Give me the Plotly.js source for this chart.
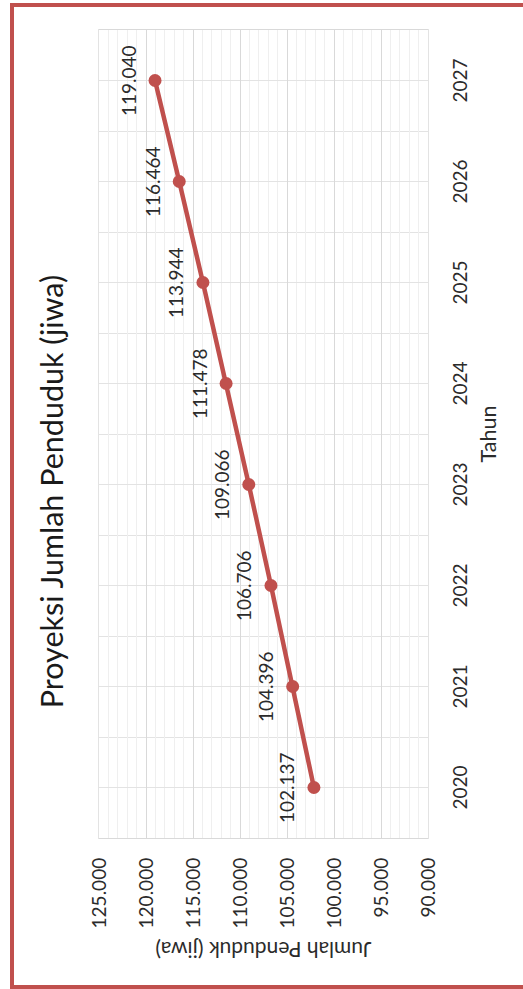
<!DOCTYPE html>
<html>
<head>
<meta charset="utf-8">
<script src="https://cdn.plot.ly/plotly-3.0.1.min.js"></script>
<style>
  html, body { margin: 0; padding: 0; background: #ffffff; overflow: hidden; }
  #wrap { position: absolute; left: 0; top: 0; width: 523px; height: 989px; overflow: hidden; background: #ffffff; }
  #chart { position: absolute; left: 0; top: 0; width: 989px; height: 523px;
           transform-origin: 0 0; transform: rotate(-90deg) translateX(-989px); }
  #frame { position: absolute; left: 10px; top: 3px; width: 600px; height: 978px;
           border: 4px solid #c0504d; pointer-events: none; box-sizing: content-box; }
</style>
</head>
<body>
<div id="wrap">
  <div id="chart"></div>
  <div id="frame"></div>
</div>
<script>
// ---- data ----
const years = [2020, 2021, 2022, 2023, 2024, 2025, 2026, 2027];
const population = [102137, 104396, 106706, 109066, 111478, 113944, 116464, 119040];
const yTickValues = [90000, 95000, 100000, 105000, 110000, 115000, 120000, 125000];
const chartTitle = 'Proyeksi Jumlah Penduduk (jiwa)';
const xTitle = 'Tahun';
const yTitle = 'Jumlah Penduduk (jiwa)';

function fmt(v) {
  return String(v).replace(/\B(?=(\d{3})+(?!\d))/g, '.');
}

const lineColor = '#c0504d';
const fontFam = 'Lato, "Open Sans", sans-serif';

const trace = {
  type: 'scatter',
  mode: 'lines+markers',
  x: years,
  y: population,
  line: { color: lineColor, width: 4.5 },
  marker: { color: lineColor, size: 13 },
  hoverinfo: 'x+y'
};

const labels = years.map((yr, i) => ({
  x: yr, y: population[i], xref: 'x', yref: 'y',
  text: fmt(population[i]), showarrow: false,
  yshift: 27, font: { family: fontFam, size: 19, color: '#2b2b2b' }
}));

const layout = {
  width: 989, height: 523,
  paper_bgcolor: '#ffffff', plot_bgcolor: '#ffffff',
  separators: ',.',
  margin: { l: 151, r: 30, t: 99, b: 95 },
  showlegend: false,
  font: { family: fontFam, color: '#2b2b2b' },
  title: {
    text: chartTitle,
    font: { family: fontFam, size: 30.5, color: '#1a1a1a' },
    x: 0.503, xref: 'container', xanchor: 'center',
    y: 1 - 52 / 523, yref: 'container', yanchor: 'middle'
  },
  xaxis: {
    type: 'linear',
    range: [2019.5, 2027.5],
    tickmode: 'array', tickvals: years, ticktext: years.map(String),
    ticks: '', ticklabelstandoff: 15,
    tickfont: { family: fontFam, size: 19, color: '#2b2b2b' },
    showgrid: true, gridcolor: '#e3e3e3', gridwidth: 1,
    minor: { dtick: 0.5, tick0: 2019.5, showgrid: true, gridcolor: '#e3e3e3', gridwidth: 1 },
    showline: true, mirror: true, linecolor: '#e3e3e3', linewidth: 1,
    zeroline: false,
    title: { text: xTitle, font: { family: fontFam, size: 21.5, color: '#2b2b2b' }, standoff: 11 }
  },
  yaxis: {
    range: [90000, 125000],
    tickmode: 'array', tickvals: yTickValues, ticktext: yTickValues.map(fmt),
    ticks: '', ticklabelstandoff: 15,
    tickfont: { family: fontFam, size: 19, color: '#2b2b2b' },
    showgrid: true, gridcolor: '#d9d9d9', gridwidth: 1,
    minor: { dtick: 1000, tick0: 90000, showgrid: true, gridcolor: '#efefef', gridwidth: 1 },
    showline: true, mirror: true, linecolor: '#d9d9d9', linewidth: 1,
    zeroline: false,
    title: { text: yTitle, font: { family: fontFam, size: 21, color: '#2b2b2b' }, standoff: 7 }
  },
  annotations: labels
};

Plotly.newPlot('chart', [trace], layout, { displayModeBar: false, staticPlot: true });
</script>
</body>
</html>
